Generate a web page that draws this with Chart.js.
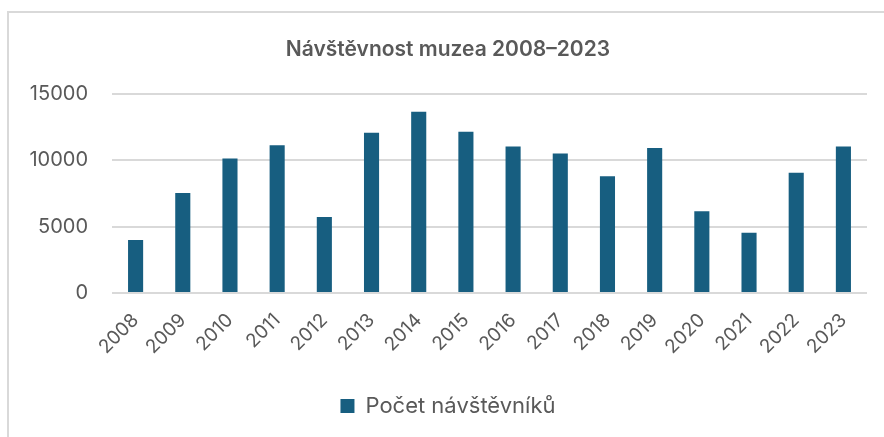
<!DOCTYPE html>
<html>
<head>
<meta charset="utf-8">
<script src="https://cdn.jsdelivr.net/npm/chart.js@4"></script>
<style>
  body { margin: 0; background: #ffffff; overflow: hidden; }
  .chart-container {
    position: absolute;
    left: 7px;
    top: 11px;
    width: 880px;
    height: 426px;
    border: 2px solid #d9d9d9;
  }
</style>
</head>
<body>
<div class="chart-container">
  <canvas id="visitorsChart"></canvas>
</div>
<script>
const years = ['2008', '2009', '2010', '2011', '2012', '2013', '2014', '2015',
  '2016', '2017', '2018', '2019', '2020', '2021', '2022', '2023'];
const visitors = [4000, 7550, 10150, 11150, 5725, 12100, 13675, 12175,
  11050, 10525, 8800, 10950, 6175, 4550, 9075, 11050];
const yTicks = [0, 5000, 10000, 15000];
const seriesLabel = 'Počet návštěvníků';
const chartTitle = 'Návštěvnost muzea 2008–2023';

Chart.defaults.color = '#595959';
Chart.defaults.font.family = "'Inter', 'Liberation Sans', sans-serif";

const canvas = document.getElementById('visitorsChart');
const container = canvas.parentElement;
canvas.width = container.clientWidth;
canvas.height = container.clientHeight;

new Chart(canvas.getContext('2d'), {
  type: 'bar',
  data: {
    labels: years,
    datasets: [{
      label: seriesLabel,
      data: visitors,
      backgroundColor: '#175e80',
      borderWidth: 0,
      barPercentage: 0.32,
      categoryPercentage: 1
    }]
  },
  options: {
    responsive: false,
    animation: false,
    // left padding keeps title/legend centred like the original
    layout: { padding: { left: 20, right: 22, top: 0, bottom: 12 } },
    plugins: {
      title: {
        display: true,
        text: chartTitle,
        color: '#595959',
        font: { size: 21, weight: '600' },
        padding: { top: 24, bottom: 32 }
      },
      legend: {
        position: 'bottom',
        labels: {
          boxWidth: 14,
          boxHeight: 14,
          padding: 10,
          color: '#595959',
          font: { size: 22 }
        }
      },
      tooltip: { enabled: false }
    },
    scales: {
      x: {
        grid: { display: false },
        border: { display: false },
        ticks: {
          minRotation: 45,
          maxRotation: 45,
          padding: 8,
          font: { size: 19 },
          color: '#595959'
        },
        afterFit: scale => { scale.height = 92; }
      },
      y: {
        min: 0,
        max: 15000,
        afterBuildTicks: scale => { scale.ticks = yTicks.map(v => ({ value: v })); },
        border: { display: false },
        grid: { color: '#d9d9d9', lineWidth: 2, drawTicks: false },
        ticks: {
          padding: 24,
          font: { size: 20 },
          color: '#595959',
          callback: value => String(value)
        },
        afterFit: scale => { scale.width = 83; }
      }
    }
  }
});
</script>
</body>
</html>
